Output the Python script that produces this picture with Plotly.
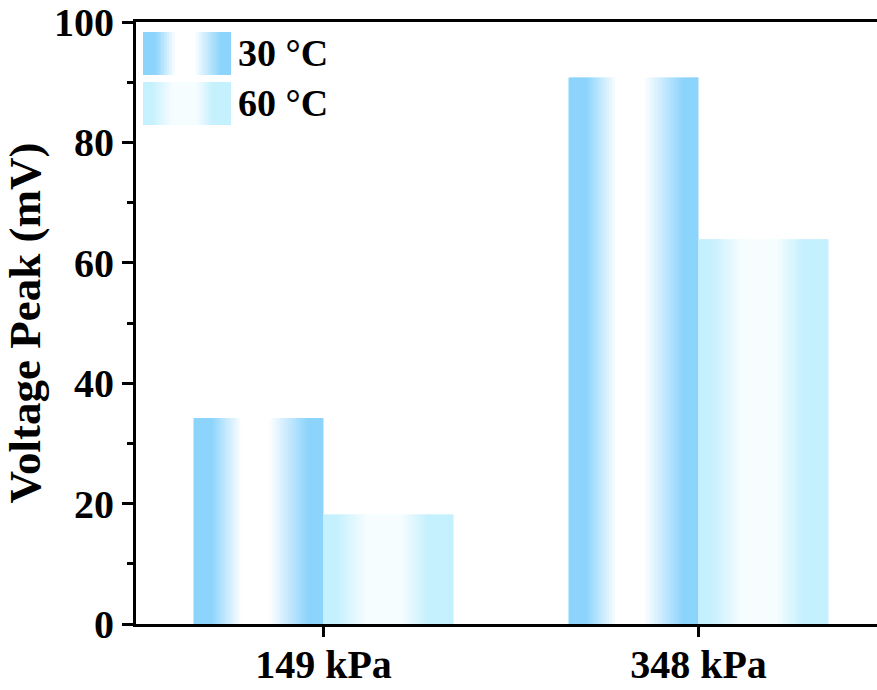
import plotly.graph_objects as go

# Data
categories = ["149 kPa", "348 kPa"]
series_names = ["30 °C", "60 °C"]
v_30 = [34.2, 90.8]
v_60 = [18.2, 63.9]
y_ticks = [0, 20, 40, 60, 80, 100]

FONT = "Liberation Serif"
FS = 40

# Horizontal gradient stops (fraction across bar, rgb)
grad_30 = [(0.00, (140, 212, 252)), (0.14, (140, 212, 252)),
           (0.37, (255, 255, 255)), (0.58, (255, 255, 255)),
           (0.88, (140, 212, 252)), (1.00, (140, 212, 252))]
grad_60 = [(0.00, (197, 240, 253)), (0.10, (197, 240, 253)),
           (0.33, (246, 253, 255)), (0.60, (246, 253, 255)),
           (0.80, (197, 240, 253)), (1.00, (197, 240, 253))]


def color_at(stops, t):
    for (t0, c0), (t1, c1) in zip(stops[:-1], stops[1:]):
        if t0 <= t <= t1:
            f = 0 if t1 == t0 else (t - t0) / (t1 - t0)
            c = [round(a + (b - a) * f) for a, b in zip(c0, c1)]
            return "rgb(%d,%d,%d)" % tuple(c)
    return "rgb(%d,%d,%d)" % stops[-1][1]


BAR_W = 0.3467   # width of one bar in category units
N = 48           # slices per bar for the gradient

fig = go.Figure()

for values, stops, start in [(v_30, grad_30, -BAR_W), (v_60, grad_60, 0.0)]:
    sw = BAR_W / N
    for i in range(N):
        t = (i + 0.5) / N
        w = sw * 1.6 if i < N - 1 else sw
        fig.add_trace(go.Bar(
            x=categories, y=values,
            offset=start + i * sw, width=w,
            marker=dict(color=color_at(stops, t), line=dict(width=0)),
            showlegend=False, hoverinfo="skip",
        ))

# Legend swatches drawn as gradient strips in paper space
L, T, R = 136, 22, 877
PW, PH = R - L, 624 - 22
shapes = []
annotations = []
for k, (name, stops) in enumerate(zip(series_names, [grad_30, grad_60])):
    x0p, x1p = 143, 231
    y0p, y1p = 32 + k * 50, 75 + k * 50
    M = 30
    for i in range(M):
        a = x0p + (x1p - x0p) * i / M
        b = x0p + (x1p - x0p) * (i + 1) / M + 0.8
        shapes.append(dict(
            type="rect", xref="paper", yref="paper",
            x0=(a - L) / PW, x1=(min(b, x1p) - L) / PW,
            y0=1 - (y1p - T) / PH, y1=1 - (y0p - T) / PH,
            fillcolor=color_at(stops, (i + 0.5) / M), line=dict(width=0),
            layer="above",
        ))
    annotations.append(dict(
        text="<b>%s</b>" % name, xref="paper", yref="paper",
        x=(236 - L) / PW, y=1 - ((y0p + y1p) / 2 - T) / PH,
        xanchor="left", yanchor="middle", showarrow=False,
        font=dict(family=FONT, size=FS - 2, color="black"),
    ))

fig.update_layout(
    template="none",
    width=877, height=690,
    margin=dict(l=L, r=0, t=T, b=66),
    paper_bgcolor="white", plot_bgcolor="white",
    barmode="overlay",
    showlegend=False,
    shapes=shapes,
    annotations=annotations,
    font=dict(family=FONT, color="black"),
)

fig.update_xaxes(
    type="category",
    range=[-0.5, -0.5 + PW / 375.0],
    showgrid=False, zeroline=False,
    showline=True, linecolor="black", linewidth=3, mirror=True,
    ticks="outside", ticklen=10, tickwidth=3, tickcolor="black",
    tickfont=dict(family=FONT, size=FS, color="black"),
    ticklabelstandoff=-7,
    tickprefix="<b>", ticksuffix="</b>",
)

fig.update_yaxes(
    range=[0, 100],
    tickvals=y_ticks, ticktext=["<b>%d</b>" % v for v in y_ticks],
    showgrid=False, zeroline=False,
    showline=True, linecolor="black", linewidth=3,
    ticks="outside", ticklen=11, tickwidth=3, tickcolor="black",
    tickfont=dict(family=FONT, size=FS, color="black"),
    minor=dict(tickvals=[10, 30, 50, 70, 90], ticks="outside", ticklen=6,
               tickwidth=2.5, tickcolor="black"),
    title=dict(text="<b>Voltage Peak (mV)</b>", standoff=6,
               font=dict(family=FONT, size=45, color="black")),
)

fig.write_html("out.html")
